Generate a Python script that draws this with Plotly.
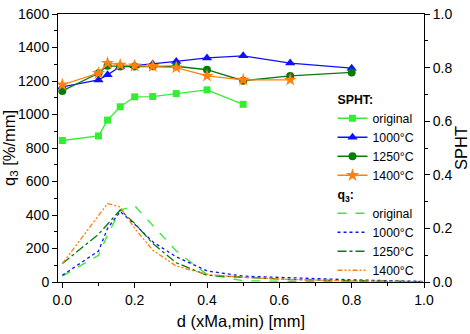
import plotly.graph_objects as go

# ---- data ----
sieve_x = [0, 0.1, 0.125, 0.16, 0.2, 0.25, 0.315, 0.4, 0.5, 0.63, 0.8]
spht_original = [0.528, 0.545, 0.604, 0.654, 0.691, 0.692, 0.703, 0.717, 0.663]
spht_1000 = [0.728, 0.754, 0.773, 0.804, 0.807, 0.813, 0.823, 0.836, 0.844, 0.817, 0.798]
spht_1250 = [0.713, 0.779, 0.807, 0.804, 0.804, 0.805, 0.805, 0.792, 0.751, 0.769, 0.782]
spht_1400 = [0.736, 0.779, 0.817, 0.810, 0.807, 0.805, 0.800, 0.769, 0.754, 0.754]

q3_x = [0, 0.1, 0.125, 0.16, 0.2, 0.25, 0.315, 0.4, 0.5, 0.63, 0.8, 1.0]
q3_original = [35, 160, 280, 430, 455, 340, 185, 45, 8, 4, 2, 0]
q3_1000 = [40, 185, 320, 420, 345, 240, 150, 66, 35, 25, 13, 3]
q3_1250 = [110, 285, 345, 430, 350, 230, 115, 40, 28, 15, 8, 2]
q3_1400 = [110, 395, 468, 448, 320, 190, 95, 45, 28, 15, 6, 2]

labels = ["original", "1000°C", "1250°C", "1400°C"]
colors = ["#33ee33", "#1010ff", "#0a7a0a", "#ff8010"]
symbols = ["square", "triangle-up", "circle", "star"]
msizes = [7, 9, 8, 10]
dashes = ["dash", "dot", "dashdot", "5px,2px,2px,2px,2px,2px"]

FONT = "Liberation Sans, Arial, sans-serif"

fig = go.Figure()

spht_sets = [spht_original, spht_1000, spht_1250, spht_1400]
for lab, col, sym, ms, ys in zip(labels, colors, symbols, msizes, spht_sets):
    fig.add_trace(go.Scatter(
        x=sieve_x[:len(ys)], y=ys, yaxis="y2", mode="lines+markers",
        name=lab, line=dict(color=col, width=1.3),
        marker=dict(symbol=sym, size=ms, color=col),
        legendgroup="spht", legendgrouptitle=dict(text="<b>SPHT:</b>"),
    ))

q3_sets = [q3_original, q3_1000, q3_1250, q3_1400]
for lab, col, dsh, ys in zip(labels, colors, dashes, q3_sets):
    fig.add_trace(go.Scatter(
        x=q3_x, y=ys, mode="lines", name=lab,
        line=dict(color=col, width=1.3, dash=dsh),
        legendgroup="q3", legendgrouptitle=dict(text="<b>q<sub>3</sub>:</b>"),
    ))

axis_common = dict(showline=True, linecolor="black", linewidth=1, showgrid=False,
                   zeroline=False, ticks="outside", ticklen=5, tickcolor="black",
                   automargin=False,
                   tickfont=dict(size=14, color="black"))

fig.update_layout(
    width=470, height=334,
    margin=dict(l=58, r=46, t=14, b=52),
    paper_bgcolor="white", plot_bgcolor="white",
    font=dict(family=FONT, color="black", size=13),
    xaxis=dict(range=[-0.012, 1.0], tickvals=[0, 0.2, 0.4, 0.6, 0.8, 1.0],
               ticktext=["0.0", "0.2", "0.4", "0.6", "0.8", "1.0"],
               minor=dict(dtick=0.1, tick0=0, ticks="outside", ticklen=3, tickcolor="black"),
               title=dict(text="d (xMa,min) [mm]", font=dict(size=16.5), standoff=8),
               mirror=True, **axis_common),
    xaxis2=dict(range=[-0.012, 1.0], overlaying="x", side="top", anchor="y",
                showline=False, showgrid=False, zeroline=False, showticklabels=False,
                ticks="inside", ticklen=5, tickcolor="black", dtick=0.2, tick0=0,
                automargin=False,
                minor=dict(dtick=0.1, tick0=0, ticks="inside", ticklen=3, tickcolor="black")),
    yaxis=dict(range=[0, 1600], dtick=200,
               minor=dict(dtick=100, ticks="outside", ticklen=3, tickcolor="black"),
               title=dict(text="q<sub>3</sub> [%/mm]", font=dict(size=16.5), standoff=0),
               **axis_common),
    yaxis2=dict(range=[0, 1.0], overlaying="y", side="right", dtick=0.2,
                tickformat=".1f",
                minor=dict(dtick=0.1, ticks="outside", ticklen=3, tickcolor="black"),
                title=dict(text="SPHT", font=dict(size=16.5), standoff=12),
                **axis_common),
    legend=dict(x=0.75, y=0.736, xanchor="left", yanchor="top",
                bgcolor="rgba(0,0,0,0)", font=dict(size=12.3),
                traceorder="grouped", tracegroupgap=0, itemwidth=30,
                grouptitlefont=dict(size=12.3)),
)

fig.write_html("out.html")
